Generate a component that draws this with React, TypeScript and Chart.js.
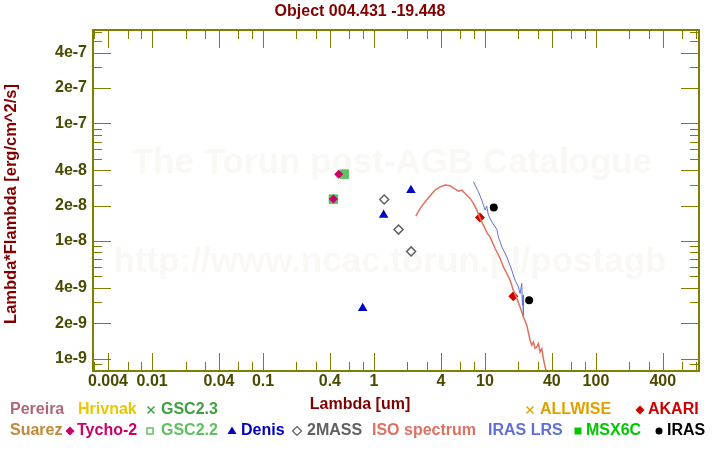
import React, { useEffect, useRef } from 'react';
import { Chart, registerables } from 'chart.js';

Chart.register(...registerables);

const TITLE = 'Object 004.431 -19.448';
const X_TITLE = 'Lambda [um]';
const Y_TITLE = 'Lambda*Flambda [erg/cm^2/s]';
const WATERMARK_1 = 'The Torun post-AGB Catalogue';
const WATERMARK_2 = 'http://www.ncac.torun.pl/postagb';

const X_MIN = 0.00293;
const X_MAX = 849;
const Y_MIN = 7.84e-10;
const Y_MAX = 6.22e-7;

const xTickLabels = [0.004, 0.01, 0.04, 0.1, 0.4, 1, 4, 10, 40, 100, 400];
const yTickLabels = [1e-9, 2e-9, 4e-9, 1e-8, 2e-8, 4e-8, 1e-7, 2e-7, 4e-7];
const xMinorMult = [1, 2, 3, 4, 6, 8];
const yMinorMult = [1, 2, 3, 4, 5, 6, 7, 8, 9];

const tycho2 = [
  { x: 0.43, y: 2.27e-8 },
  { x: 0.48, y: 3.7e-8 },
];
const gsc22 = [
  { x: 0.43, y: 2.27e-8 },
  { x: 0.54, y: 3.7e-8 },
];
const gsc23 = [
  { x: 0.43, y: 2.27e-8 },
  { x: 0.54, y: 3.7e-8 },
];
const denis = [
  { x: 0.79, y: 2.68e-9 },
  { x: 1.22, y: 1.66e-8 },
  { x: 2.15, y: 2.7e-8 },
];
const twoMass = [
  { x: 1.235, y: 2.25e-8 },
  { x: 1.662, y: 1.25e-8 },
  { x: 2.159, y: 8.15e-9 },
];
const akari = [
  { x: 9.0, y: 1.585e-8 },
  { x: 18.0, y: 3.39e-9 },
];
const iras = [
  { x: 12.0, y: 1.93e-8 },
  { x: 25.0, y: 3.13e-9 },
];

const isoLambda = [
  2.381, 2.603, 2.887, 3.203, 3.553, 3.941, 4.373, 4.851, 5.38, 5.763, 6.183, 6.622, 7.345, 7.866,
  8.44, 9.036, 9.678, 10.51, 11.12, 12.34, 13.69, 14.65, 15.73, 16.84, 18.03, 19.35, 20.72, 22.19,
  23.81, 25.49, 26.41, 27.3, 28.28, 29.29, 30.28, 31.37, 32.5, 33.6, 34.79, 36.05, 37.5,
];
const isoFlux = [
  1.626e-8, 1.891e-8, 2.152e-8, 2.42e-8, 2.706e-8, 2.886e-8, 2.984e-8, 2.943e-8, 2.76e-8, 2.653e-8,
  2.706e-8, 2.536e-8, 2.3e-8, 2.085e-8, 1.829e-8, 1.554e-8, 1.363e-8, 1.158e-8, 1.083e-8, 8.63e-9,
  7.1e-9, 6.02e-9, 5.29e-9, 4.64e-9, 3.81e-9, 3.24e-9, 2.75e-9, 2.26e-9, 1.92e-9, 1.431e-9,
  1.297e-9, 1.385e-9, 1.224e-9, 1.255e-9, 1.342e-9, 1.138e-9, 1.216e-9, 1.0e-9, 8.48e-10, 7.64e-10,
  5.96e-10,
];

const lrsLambda = [
  7.866, 8.727, 9.363, 10.03, 10.36, 10.74, 11.52, 12.34, 12.78, 13.21, 14.17, 15.73, 17.44, 18.67,
  20.0, 20.72, 21.46, 21.73, 22.05, 22.19,
];
const lrsFlux = [
  3.18e-8, 2.618e-8, 2.224e-8, 1.829e-8, 1.978e-8, 1.658e-8, 1.454e-8, 1.318e-8, 1.26e-8, 1.083e-8,
  8.91e-9, 7.32e-9, 5.64e-9, 4.64e-9, 4.07e-9, 3.57e-9, 4.35e-9, 2.84e-9, 3.46e-9, 2.26e-9,
];

const FONT = '"Liberation Sans", Arial, sans-serif';
const OLIVE = '#808000';
const TICK_TEXT = '#4a4a00';
const MAROON = '#800000';

const C = {
  pereira: '#b06878',
  hrivnak: '#e8c800',
  gsc23: '#40a040',
  allwise: '#e0a000',
  akari: '#d00000',
  suarez: '#c08838',
  tycho: '#c8006a',
  gsc22: '#60c060',
  denis: '#0000c0',
  twomass: '#606060',
  iso: '#e07060',
  lrs: '#6070d8',
  msx: '#00c800',
  iras: '#000000',
};

function fmtY(v: number) {
  const e = Math.floor(Math.log10(v) + 1e-9);
  const m = Math.round(v / Math.pow(10, e));
  return `${m}e${e}`;
}

function drawMarker(ctx: CanvasRenderingContext2D, kind: string, x: number, y: number, color: string) {
  ctx.save();
  ctx.fillStyle = color;
  ctx.strokeStyle = color;
  ctx.lineWidth = 1.5;
  ctx.beginPath();
  if (kind === 'x') {
    const s = 3.5;
    ctx.moveTo(x - s, y - s);
    ctx.lineTo(x + s, y + s);
    ctx.moveTo(x + s, y - s);
    ctx.lineTo(x - s, y + s);
    ctx.stroke();
  } else if (kind === 'diamond' || kind === 'odiamond') {
    const s = 4.5;
    ctx.moveTo(x, y - s);
    ctx.lineTo(x + s, y);
    ctx.lineTo(x, y + s);
    ctx.lineTo(x - s, y);
    ctx.closePath();
    if (kind === 'diamond') ctx.fill();
    else {
      ctx.lineWidth = 1.2;
      ctx.stroke();
    }
  } else if (kind === 'osquare') {
    ctx.rect(x - 3, y - 3, 6, 6);
    ctx.stroke();
  } else if (kind === 'square') {
    ctx.rect(x - 3.5, y - 3.5, 7, 7);
    ctx.fill();
  } else if (kind === 'triangle') {
    ctx.moveTo(x, y - 4.5);
    ctx.lineTo(x + 4.5, y + 3);
    ctx.lineTo(x - 4.5, y + 3);
    ctx.closePath();
    ctx.fill();
  } else if (kind === 'circle') {
    ctx.arc(x, y, 3.5, 0, Math.PI * 2);
    ctx.fill();
  }
  ctx.restore();
}

const sedPlugin = {
  id: 'sedFrame',
  beforeDatasetsDraw(chart: any) {
    const { ctx } = chart;
    ctx.save();
    ctx.fillStyle = '#faf8f5';
    ctx.font = `bold 35px ${FONT}`;
    ctx.textAlign = 'center';
    ctx.textBaseline = 'middle';
    ctx.fillText(WATERMARK_1, 392, 163);
    ctx.fillText(WATERMARK_2, 390, 262);
    ctx.restore();
  },
  afterDatasetsDraw(chart: any) {
    const { ctx, chartArea: a } = chart;
    const xs = chart.scales.x;
    const ys = chart.scales.y;
    ctx.save();
    ctx.strokeStyle = OLIVE;
    ctx.lineWidth = 1;
    ctx.beginPath();
    for (let e = -4; e <= 3; e++) {
      for (const m of xMinorMult) {
        const v = m * Math.pow(10, e);
        if (v <= X_MIN || v >= X_MAX) continue;
        const px = Math.round(xs.getPixelForValue(v)) + 0.5;
        const len = m === 1 || m === 4 ? 18 : 9;
        ctx.moveTo(px, a.bottom);
        ctx.lineTo(px, a.bottom - len);
        ctx.moveTo(px, a.top);
        ctx.lineTo(px, a.top + len);
      }
    }
    for (let e = -11; e <= -5; e++) {
      for (const m of yMinorMult) {
        const v = m * Math.pow(10, e);
        if (v <= Y_MIN || v >= Y_MAX) continue;
        const py = Math.round(ys.getPixelForValue(v)) + 0.5;
        const len = m === 1 || m === 2 || m === 4 ? 18 : 9;
        ctx.moveTo(a.left, py);
        ctx.lineTo(a.left + len, py);
        ctx.moveTo(a.right, py);
        ctx.lineTo(a.right - len, py);
      }
    }
    ctx.stroke();
    ctx.lineWidth = 2;
    ctx.strokeRect(a.left, a.top, a.right - a.left, a.bottom - a.top);

    // tick labels
    ctx.fillStyle = TICK_TEXT;
    ctx.font = `bold 16px ${FONT}`;
    ctx.textAlign = 'center';
    ctx.textBaseline = 'middle';
    for (const v of xTickLabels) {
      ctx.fillText(String(v), xs.getPixelForValue(v), a.bottom + 11);
    }
    ctx.textAlign = 'right';
    for (const v of yTickLabels) {
      ctx.fillText(fmtY(v), a.left - 6, ys.getPixelForValue(v));
    }

    // titles
    ctx.fillStyle = MAROON;
    ctx.textAlign = 'center';
    ctx.font = `bold 16px ${FONT}`;
    ctx.fillText(TITLE, 360, 12);
    ctx.fillText(X_TITLE, 360, 405);
    ctx.save();
    ctx.translate(11, 204);
    ctx.rotate(-Math.PI / 2);
    ctx.font = `bold 16.5px ${FONT}`;
    ctx.fillText(Y_TITLE, 0, 0);
    ctx.restore();

    // legend
    ctx.textAlign = 'left';
    const r1 = 410;
    const r2 = 431;
    const items: [string, string, number, number, string | null, number][] = [
      ['Pereira', C.pereira, 10, r1, null, 0],
      ['Hrivnak', C.hrivnak, 78, r1, null, 0],
      ['GSC2.3', C.gsc23, 161, r1, 'x', 151],
      ['ALLWISE', C.allwise, 540, r1, 'x', 530],
      ['AKARI', C.akari, 648, r1, 'diamond', 640],
      ['Suarez', C.suarez, 10, r2, null, 0],
      ['Tycho-2', C.tycho, 77, r2, 'diamond', 70],
      ['GSC2.2', C.gsc22, 161, r2, 'osquare', 150],
      ['Denis', C.denis, 241, r2, 'triangle', 232],
      ['2MASS', C.twomass, 307, r2, 'odiamond', 297],
      ['ISO spectrum', C.iso, 372, r2, null, 0],
      ['IRAS LRS', C.lrs, 488, r2, null, 0],
      ['MSX6C', C.msx, 586, r2, 'square', 578],
      ['IRAS', C.iras, 667, r2, 'circle', 659],
    ];
    for (const [txt, col, tx, ty, mk, mx] of items) {
      ctx.fillStyle = col;
      ctx.fillText(txt, tx, ty);
      if (mk) drawMarker(ctx, mk, mx, ty, col);
    }
    ctx.restore();
  },
};

export default function App() {
  const ref = useRef<HTMLCanvasElement | null>(null);
  useEffect(() => {
    if (!ref.current) return;
    const iso = isoLambda.map((x, i) => ({ x, y: isoFlux[i] }));
    const lrs = lrsLambda.map((x, i) => ({ x, y: lrsFlux[i] }));
    const chart = new Chart(ref.current, {
      type: 'scatter',
      data: {
        datasets: [
          {
            label: 'ISO spectrum',
            data: iso,
            showLine: true,
            borderColor: C.iso,
            borderWidth: 1.5,
            pointRadius: 0,
          },
          {
            label: 'IRAS LRS',
            data: lrs,
            showLine: true,
            borderColor: C.lrs,
            borderWidth: 1,
            pointRadius: 0,
          },
          {
            label: 'Tycho-2',
            data: tycho2,
            pointStyle: 'rectRot',
            pointRadius: 4.5,
            backgroundColor: C.tycho,
            borderColor: C.tycho,
            borderWidth: 0,
          },
          {
            label: 'GSC2.2',
            data: gsc22,
            pointStyle: 'rect',
            pointRadius: 6,
            backgroundColor: C.gsc22,
            borderColor: C.gsc22,
            borderWidth: 1,
          },
          {
            label: 'GSC2.3',
            data: gsc23,
            pointStyle: 'crossRot',
            pointRadius: 4,
            borderColor: C.gsc23,
            borderWidth: 1.5,
          },
          {
            label: 'Denis',
            data: denis,
            pointStyle: 'triangle',
            pointRadius: 5.5,
            backgroundColor: C.denis,
            borderColor: C.denis,
            borderWidth: 0,
          },
          {
            label: '2MASS',
            data: twoMass,
            pointStyle: 'rectRot',
            pointRadius: 4.5,
            backgroundColor: 'rgba(0,0,0,0)',
            borderColor: C.twomass,
            borderWidth: 1.5,
          },
          {
            label: 'AKARI',
            data: akari,
            pointStyle: 'rectRot',
            pointRadius: 5,
            backgroundColor: C.akari,
            borderColor: C.akari,
            borderWidth: 0,
          },
          {
            label: 'IRAS',
            data: iras,
            pointStyle: 'circle',
            pointRadius: 4,
            backgroundColor: C.iras,
            borderColor: C.iras,
            borderWidth: 0,
          },
        ],
      },
      options: {
        animation: false,
        responsive: false,
        devicePixelRatio: 1,
        layout: { padding: { left: 93, right: 21, top: 30, bottom: 79 } },
        plugins: {
          legend: { display: false },
          tooltip: { enabled: false },
          title: { display: false },
        },
        scales: {
          x: { type: 'logarithmic', min: X_MIN, max: X_MAX, display: false },
          y: { type: 'logarithmic', min: Y_MIN, max: Y_MAX, display: false },
        },
      },
      plugins: [sedPlugin],
    });
    return () => chart.destroy();
  }, []);
  return (
    <div style={{ position: 'absolute', left: 0, top: 0, width: 720, height: 450, background: '#fff' }}>
      <canvas ref={ref} width={720} height={450} style={{ width: 720, height: 450 }} />
    </div>
  );
}
